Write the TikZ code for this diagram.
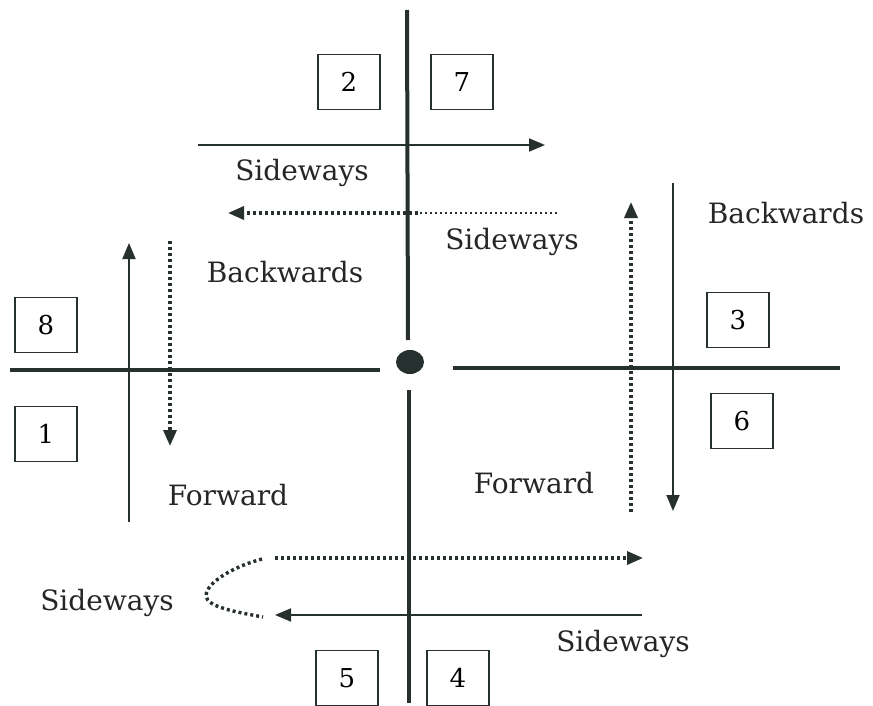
\documentclass[tikz,border=0pt]{standalone}
\usepackage{fontspec}
\setmainfont{DejaVu Serif}
\usetikzlibrary{arrows.meta,shapes.geometric}
\definecolor{ink}{RGB}{38,48,46}
\tikzset{
  axis/.style={draw=ink, line width=4pt},
  solidarrow/.style={draw=ink, line width=1.9pt, -{Triangle[length=16pt,width=13pt]}},
  dotarrow/.style={draw=ink, line width=3.4pt, dash pattern=on 3pt off 3pt, -{Triangle[length=16pt,width=13pt]}},
  dotline/.style={draw=ink, line width=3.4pt, dash pattern=on 3pt off 3pt},
  finedot/.style={draw=ink, line width=1.8pt, dash pattern=on 2.5pt off 2.5pt},
  numbox/.style={draw=ink, line width=1.3pt, minimum width=62pt, minimum height=55pt, inner sep=0pt, font=\fontsize{26}{30}\selectfont},
  label/.style={inner sep=0pt, text=black!85, font=\fontsize{28}{32}\selectfont}
}
\begin{document}
\begin{tikzpicture}[x=1pt, y=-1pt]
\useasboundingbox (0,0) rectangle (873,706);
\fill[white] (0,0) rectangle (873,706);

% main axes and centre point
\coordinate (vtop) at (407,10);
\coordinate (vtopend) at (408,340);
\coordinate (vbotstart) at (409,390);
\coordinate (vbot) at (409,703);
\coordinate (hleft) at (10,370);
\coordinate (hleftend) at (380,370);
\coordinate (hrightstart) at (453,368);
\coordinate (hright) at (840,368);
\draw[axis] (vtop) -- (vtopend);
\draw[axis] (vbotstart) -- (vbot);
\draw[axis] (hleft) -- (hleftend);
\draw[axis] (hrightstart) -- (hright);
\node[ellipse, fill=ink, minimum width=28pt, minimum height=24pt, inner sep=0pt] (centre) at (410,362) {};

% numbered boxes
\node[numbox] (b2) at (349,82) {2};
\node[numbox] (b7) at (462,82) {7};
\node[numbox] (b8) at (46,325) {8};
\node[numbox] (b1) at (46,434) {1};
\node[numbox] (b3) at (738,320) {3};
\node[numbox] (b6) at (742,421) {6};
\node[numbox] (b5) at (347,678) {5};
\node[numbox] (b4) at (458,678) {4};

% upper sideways movements
\coordinate (s1a) at (198,145);
\coordinate (s1b) at (545,145);
\draw[solidarrow] (s1a) -- (s1b);
\coordinate (s2a) at (557,213);
\coordinate (s2m) at (418,213);
\coordinate (s2b) at (228,213);
\draw[finedot] (s2a) -- (s2m);
\draw[dotarrow] (s2m) -- (s2b);

% left forward / backwards
\coordinate (l1a) at (129,522);
\coordinate (l1b) at (129,243);
\draw[solidarrow] (l1a) -- (l1b);
\coordinate (l2a) at (170,241);
\coordinate (l2b) at (170,446);
\draw[dotarrow] (l2a) -- (l2b);

% right forward / backwards
\coordinate (r1a) at (631,512);
\coordinate (r1b) at (631,202);
\draw[dotarrow] (r1a) -- (r1b);
\coordinate (r2a) at (673,183);
\coordinate (r2b) at (673,511);
\draw[solidarrow] (r2a) -- (r2b);

% lower sideways loop
\coordinate (d1a) at (275,558);
\coordinate (d1b) at (643,558);
\draw[dotarrow] (d1a) -- (d1b);
\coordinate (c1) at (262,559);
\coordinate (c2) at (206,596);
\coordinate (c3) at (263,617);
\draw[dotline] (c1) .. controls (232,567) and (206,583) .. (c2)
               .. controls (207,607) and (236,612) .. (c3);
\coordinate (d2a) at (642,615);
\coordinate (d2b) at (275,615);
\draw[solidarrow] (d2a) -- (d2b);

% labels
\node[label] (t1) at (302,173) {Sideways};
\node[label] (t2) at (512,242) {Sideways};
\node[label] (t3) at (786,213) {Backwards};
\node[label] (t4) at (285,272) {Backwards};
\node[label] (t5) at (228,495) {Forward};
\node[label] (t6) at (534,483) {Forward};
\node[label] (t7) at (107,603) {Sideways};
\node[label] (t8) at (623,644) {Sideways};
\end{tikzpicture}
\end{document}
